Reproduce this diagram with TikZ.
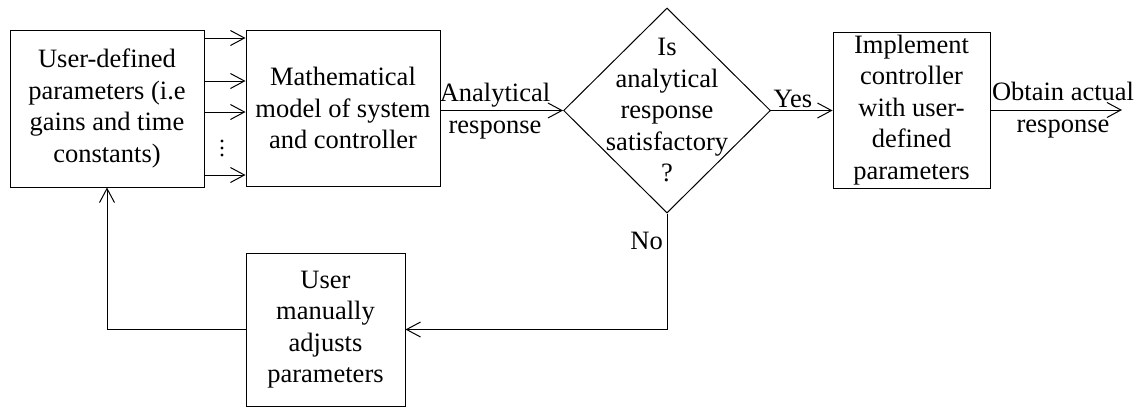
\documentclass[tikz,border=0pt]{standalone}
\usepackage{fontspec}
\setmainfont{Liberation Serif}
\usetikzlibrary{arrows.meta,shapes.geometric,calc}
\begin{document}
\begin{tikzpicture}[x=1pt,y=-1pt,
  every node/.style={font=\fontsize{26.5}{31.5}\selectfont, align=center, inner sep=0pt},
  blk/.style={draw, line width=1pt, rectangle},
  dia/.style={draw, line width=1pt, diamond, minimum width=207pt, minimum height=205pt},
  arr/.style={line width=1pt, -{Straight Barb[length=14pt,width=15pt,line width=1pt]}},
  dot/.style={fill=black}]
\useasboundingbox (0,0) rectangle (1144,407);
\node[blk, minimum width=194pt, minimum height=157pt] (b1) at (107,108.5)
  {User-defined\\parameters (i.e\\gains and time\\constants)};
\node[blk, minimum width=194pt, minimum height=156pt] (b2) at (343,108)
  {Mathematical\\model of system\\and controller};
\node[dia] (d) at (667,110.5) {};
\node (dt) at (667,110.5) {Is\\analytical\\response\\satisfactory\\?};
\node[blk, minimum width=157pt, minimum height=156pt] (b3) at (911.5,110)
  {Implement\\controller\\with user-\\defined\\parameters};
\node[blk, minimum width=159pt, minimum height=153pt] (b4) at (325.5,329.5)
  {User\\manually\\adjusts\\parameters};
\coordinate (y1) at (0,38);
\coordinate (y2) at (0,81);
\coordinate (y3) at (0,112);
\coordinate (y4) at (0,175);
\draw[arr] (b1.east |- y1) -- (b2.west |- y1);
\draw[arr] (b1.east |- y2) -- (b2.west |- y2);
\draw[arr] (b1.east |- y3) -- (b2.west |- y3);
\draw[arr] (b1.east |- y4) -- (b2.west |- y4);
\fill[dot] (222,141) circle (1.7);
\fill[dot] (222,148) circle (1.7);
\fill[dot] (222,155) circle (1.7);
\draw[arr] (b2.east |- d.west) -- (d.west);
\node (la) at (495,111) {Analytical\\response};
\draw[arr] (d.east) -- (b3.west |- d.east);
\node[anchor=south] (ly) at (793,108) {Yes};
\coordinate (out) at (1122,110);
\draw[arr] (b3.east) -- (out);
\node (lo) at (1063,110) {Obtain actual\\response};
\draw[arr] (d.south) -- (d.south |- b4.east) -- (b4.east);
\node[anchor=east] (ln) at (663,241) {No};
\draw[arr] (b4.west) -| (b1.south);
\end{tikzpicture}
\end{document}
